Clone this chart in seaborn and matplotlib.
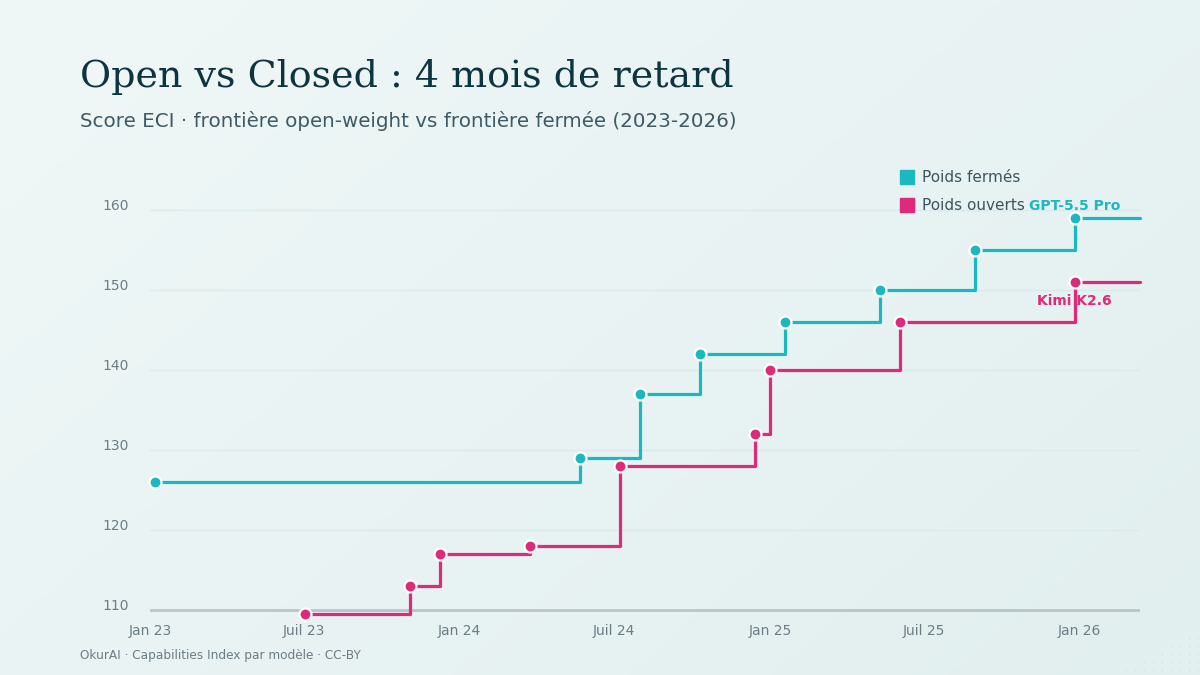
import numpy as np
import pandas as pd
import matplotlib
matplotlib.use("Agg")
import matplotlib.pyplot as plt
import matplotlib.transforms as mtransforms
from matplotlib.patches import Rectangle
import seaborn as sns

# ---- data ----
closed_dates = ["2023-01-07", "2024-05-22", "2024-08-01", "2024-10-10", "2025-01-18",
                "2025-05-10", "2025-08-30", "2025-12-26"]
closed_scores = [126, 129, 137, 142, 146, 150, 155, 159]
open_dates = ["2023-07-03", "2023-11-03", "2023-12-09", "2024-03-24", "2024-07-08",
              "2024-12-14", "2025-01-01", "2025-06-03", "2025-12-26"]
open_scores = [109.5, 113, 117, 118, 128, 132, 140, 146, 151]
x_end = "2026-03-13"
tick_dates = ["2023-01-01", "2023-07-01", "2024-01-01", "2024-07-01",
              "2025-01-01", "2025-07-01", "2026-01-01"]
tick_labels = ["Jan 23", "Juil 23", "Jan 24", "Juil 24", "Jan 25", "Juil 25", "Jan 26"]
y_ticks = [110, 120, 130, 140, 150, 160]
series_names = ["Poids fermés", "Poids ouverts"]
last_closed_label = "GPT-5.5 Pro"
last_open_label = "Kimi K2.6"

TEAL = "#1bb8bf"
PINK = "#de2a7a"
TICK = "#6b7d86"

sns.set_theme(style="white")
plt.rcParams["font.family"] = ["DejaVu Sans"]

fig = plt.figure(figsize=(12, 6.75), dpi=100)

# background gradient
bg = fig.add_axes([0, 0, 1, 1], zorder=-10)
gx, gy = np.meshgrid(np.linspace(0, 1, 300), np.linspace(0, 1, 170))
t = (gx * 0.6 + gy * 0.4)
c0 = np.array([0xf0, 0xf7, 0xf7]) / 255
c1 = np.array([0xe2, 0xef, 0xef]) / 255
img = c0[None, None, :] * (1 - t[..., None]) + c1[None, None, :] * t[..., None]
bg.imshow(img, aspect="auto", extent=[0, 1, 0, 1], origin="upper")
# faint decorative dot pattern, bottom-right corner
px, py = np.meshgrid(np.arange(1126, 1200, 9), np.arange(638, 676, 8))
mask = (px - 1126) + (py - 638) * 1.9 > 60
bg.scatter(px[mask] / 1200, 1 - py[mask] / 675, s=0.6, color="#c5d6d8", lw=0)
bg.set_xlim(0, 1)
bg.set_ylim(0, 1)
bg.axis("off")

ax = fig.add_axes([150 / 1200, 1 - 618 / 675, 990 / 1200, (618 - 170) / 675])
ax.set_facecolor("none")

cd = pd.to_datetime(closed_dates)
od = pd.to_datetime(open_dates)
xe = pd.Timestamp(x_end)

df_c = pd.DataFrame({"date": list(cd) + [xe], "score": closed_scores + [closed_scores[-1]]})
df_o = pd.DataFrame({"date": list(od) + [xe], "score": open_scores + [open_scores[-1]]})

for y in y_ticks[1:]:
    ax.axhline(y, color="#dce9ea", lw=1, zorder=0)
ax.axhline(110, color="#b9c5c9", lw=2, zorder=1)

sns.lineplot(data=df_c, x="date", y="score", ax=ax, color=TEAL, lw=2.3,
             drawstyle="steps-post", zorder=3, clip_on=False)
sns.lineplot(data=df_o, x="date", y="score", ax=ax, color=PINK, lw=2.3,
             drawstyle="steps-post", zorder=3, clip_on=False)
sns.scatterplot(x=cd, y=closed_scores, ax=ax, color=TEAL, s=75, edgecolor="white",
                linewidth=1.6, zorder=5, clip_on=False)
sns.scatterplot(x=od, y=open_scores, ax=ax, color=PINK, s=75, edgecolor="white",
                linewidth=1.6, zorder=5, clip_on=False)

ax.set_xlim(pd.Timestamp("2023-01-01"), xe)
ax.set_ylim(109, 165)
ax.set_xticks(pd.to_datetime(tick_dates))
ax.set_xticklabels(tick_labels)
ax.set_yticks(y_ticks)
ax.set_yticklabels([str(v) for v in y_ticks])
ax.tick_params(axis="both", length=0, labelsize=10, labelcolor=TICK)
ax.tick_params(axis="y", pad=15)
ax.tick_params(axis="x", pad=4)
ax.set_xlabel("")
ax.set_ylabel("")
for s in ax.spines.values():
    s.set_visible(False)
shift = mtransforms.ScaledTranslation(0, 6 / 100, fig.dpi_scale_trans)
for lab in ax.get_yticklabels():
    lab.set_transform(lab.get_transform() + shift)

ax.annotate(last_closed_label, (cd[-1], closed_scores[-1]), xytext=(0, 9),
            textcoords="offset points", ha="center", va="center", color=TEAL,
            fontsize=10, fontweight="bold", zorder=6)
ax.annotate(last_open_label, (od[-1], open_scores[-1]), xytext=(0, -13.5),
            textcoords="offset points", ha="center", va="center", color=PINK,
            fontsize=10, fontweight="bold", zorder=2)

# legend
for i, (name, col) in enumerate(zip(series_names, [TEAL, PINK])):
    yc = 177 + 28 * i
    fig.patches.append(Rectangle((900 / 1200, 1 - (yc + 7) / 675), 14 / 1200, 14 / 675,
                                 transform=fig.transFigure, color=col, zorder=4))
    fig.text(922 / 1200, 1 - yc / 675, name, ha="left", va="center", fontsize=11,
             color="#3d5560")

fig.text(80 / 1200, 1 - 77 / 675, "Open vs Closed : 4 mois de retard", family="DejaVu Serif",
         fontsize=27.4, color="#0d3540", ha="left", va="center")
fig.text(80 / 1200, 1 - 121 / 675,
         "Score ECI · frontière open-weight vs frontière fermée (2023-2026)",
         fontsize=14.35, color="#3d5a66", ha="left", va="center")
fig.text(80 / 1200, 1 - 656 / 675, "OkurAI · Capabilities Index par modèle · CC-BY",
         fontsize=8.7, color=TICK, ha="left", va="center")

fig.savefig("out.png", dpi=100)
